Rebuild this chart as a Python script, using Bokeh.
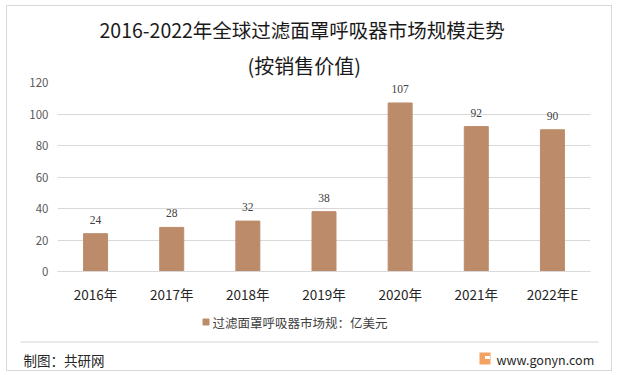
from bokeh.plotting import figure
from bokeh.layouts import column
from bokeh.models import ColumnDataSource, LabelSet, Title, Range1d, FactorRange
from bokeh.embed import file_html
from bokeh.resources import INLINE

years = ["2016年", "2017年", "2018年", "2019年", "2020年", "2021年", "2022年E"]
values = [24, 28, 32, 38, 107, 92, 90]
y_ticks = [0, 20, 40, 60, 80, 100, 120]
series_name = "过滤面罩呼吸器市场规：亿美元"
title_main = "2016-2022年全球过滤面罩呼吸器市场规模走势"
title_sub = "(按销售价值)"
source_note = "制图：共研网"
site = "www.gonyn.com"

FONT = "Noto Sans CJK SC"
BAR = "#BC8C6A"
GRID = "#d9d9d9"

W = 604
H1 = 304
H2 = 60

src = ColumnDataSource(dict(x=years, y=values, lab=[str(v) for v in values]))

p = figure(width=W, height=H1, x_range=FactorRange(*years, range_padding=0),
           y_range=Range1d(0, 120), output_backend="svg", toolbar_location=None,
           min_border_left=50, min_border_right=21, min_border_top=76, min_border_bottom=39)
p.outline_line_color = None
p.frame_align = False

r = p.vbar(x="x", top="y", width=0.315, source=src, color=BAR)

p.add_layout(LabelSet(x="x", y="y", text="lab", source=src, y_offset=10, text_align="center",
                      text_baseline="bottom", text_font_size="11.5px", text_color="#404040",
                      text_font=FONT))

p.yaxis.ticker = y_ticks
p.yaxis.axis_line_color = None
p.yaxis.major_tick_line_color = None
p.yaxis.minor_tick_line_color = None
p.yaxis.major_tick_out = 0
p.yaxis.major_label_text_font_size = "11.5px"
p.yaxis.major_label_text_font = FONT
p.yaxis.major_label_text_color = "#595959"
p.yaxis.major_label_standoff = 9
p.ygrid.grid_line_color = GRID
p.xgrid.grid_line_color = None

p.xaxis.axis_line_color = GRID
p.xaxis.major_tick_line_color = None
p.xaxis.major_tick_out = 0
p.xaxis.major_label_text_font_size = "13.5px"
p.xaxis.major_label_text_color = "#262626"
p.xaxis.major_label_text_font = FONT
p.xaxis.major_label_standoff = 12

p.add_layout(Title(text=title_sub, align="left", offset=190, text_font=FONT,
                   text_font_size="20px", text_font_style="normal", text_color="#1a1a1a",
                   standoff=5), "above")
p.add_layout(Title(text=title_main, align="left", offset=42, text_font=FONT,
                   text_font_size="19.5px", text_font_style="normal", text_color="#1a1a1a",
                   standoff=6), "above")

# footer strip: its frame covers the whole strip; ranges in the reference's pixel positions
f = figure(width=W, height=H2, x_range=Range1d(7, 7 + W), y_range=Range1d(310 + H2, 310),
           output_backend="svg", toolbar_location=None, x_axis_type=None, y_axis_type=None,
           min_border=0)
f.outline_line_color = None
f.frame_align = False
f.xgrid.visible = False
f.ygrid.visible = False

# separator (thin filled band)
f.rect(x=[309], y=[341.5], width=578, height=1, fill_color="#d4d4d4", line_color=None)
# legend swatch + label
f.scatter(x=[205.5], y=[321.5], marker="square", size=6, color=BAR)
f.text(x=[212], y=[322], text=[series_name], text_baseline="middle", text_font_size="12.5px",
       text_color="#404040", text_font={"value": FONT})
# source note
f.text(x=[23], y=[359], text=[source_note], text_baseline="middle", text_font_size="13.5px",
       text_color="#262626", text_font={"value": FONT})
# logo
f.rect(x=[484.5], y=[358], width=11, height=12, fill_color="#F4A261", line_color=None)
f.rect(x=[487], y=[357], width=5, height=3, fill_color="white", line_color=None)
f.text(x=[496], y=[358.5], text=[site], text_baseline="middle", text_font_size="12.5px",
       text_color="#262626", text_font={"value": FONT})

layout = column(p, f, spacing=0,
                styles={"border": "1px solid #d9d9d9", "margin-left": "6px", "margin-top": "5px"})

open("out.html", "w").write(file_html(layout, INLINE))
